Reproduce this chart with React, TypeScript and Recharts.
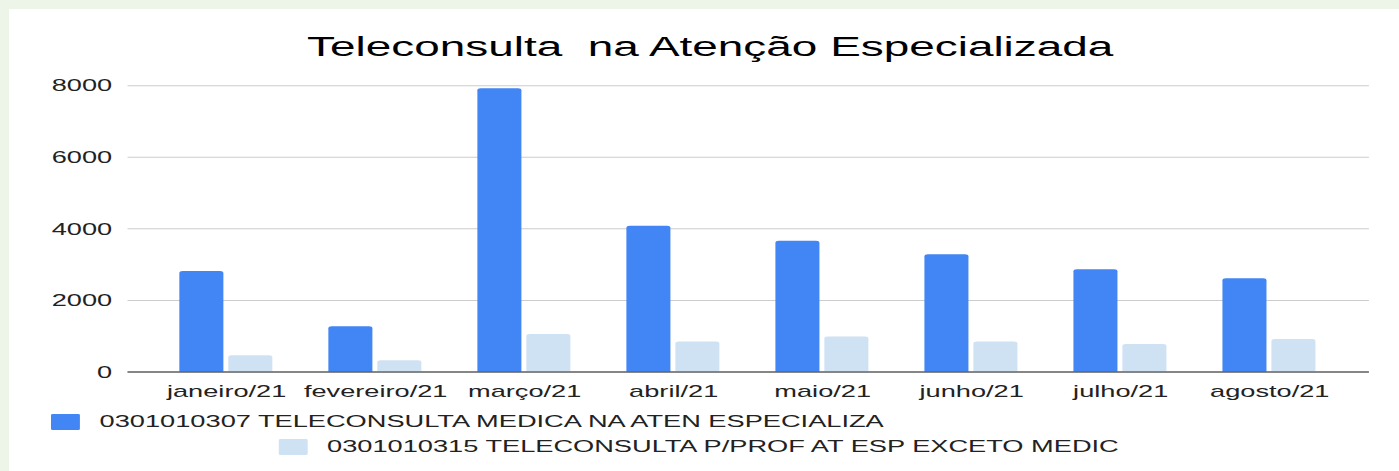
import { BarChart, Bar, XAxis, YAxis, CartesianGrid } from "recharts";

const meses = ["janeiro/21", "fevereiro/21", "março/21", "abril/21", "maio/21", "junho/21", "julho/21", "agosto/21"];
const medica = [2820, 1280, 7930, 4090, 3670, 3290, 2870, 2620];
const profissional = [470, 330, 1060, 850, 990, 850, 780, 920];
const yTicks = [0, 2000, 4000, 6000, 8000];

const SERIE_MEDICA = "0301010307 TELECONSULTA MEDICA NA ATEN ESPECIALIZA";
const SERIE_PROF = "0301010315 TELECONSULTA P/PROF AT ESP EXCETO MEDIC";

const AZUL = "#4285f4";
const AZUL_CLARO = "#cfe2f3";
const FONTE = "'Liberation Sans', Arial, Helvetica, sans-serif";

// a imagem original está esticada na horizontal; desenhamos estreito e esticamos
const ESTICA = 1.7;
const LARGURA = 1399 / ESTICA;

const dados = meses.map((mes, i) => ({ mes, medica: medica[i], prof: profissional[i] }));

export default function App() {
  return (
    <div style={{ position: "relative", width: 1399, height: 471, background: "#edf5e9", overflow: "hidden" }}>
      <style>{`body{margin:0}`}</style>
      <div style={{ position: "absolute", left: 9, top: 9, right: 0, bottom: 0, background: "#fff" }} />
      <div
        style={{
          position: "absolute",
          left: 0,
          top: 0,
          width: LARGURA,
          height: 471,
          transform: `scaleX(${ESTICA})`,
          transformOrigin: "0 0",
          fontFamily: FONTE,
        }}
      >
        {/* Título */}
        <div
          style={{
            position: "absolute",
            left: 180.6,
            top: 34,
            fontSize: 27,
            lineHeight: 1,
            whiteSpace: "pre",
            color: "#000",
          }}
        >
          {"Teleconsulta  na Atenção Especializada"}
        </div>

        <BarChart
          width={LARGURA}
          height={471}
          data={dados}
          margin={{ top: 85.7, right: 17.7, bottom: 69, left: 15 }}
          barSize={25.9}
          barGap={2.9}
        >
          <CartesianGrid vertical={false} stroke="#cccccc" strokeWidth={1} />
          <XAxis
            dataKey="mes"
            height={30}
            padding={{ left: 14.5, right: 14.5 }}
            tickLine={false}
            tickSize={0}
            tickMargin={14}
            axisLine={{ stroke: "#666", strokeWidth: 1.5 }}
            interval={0}
            tick={{ fill: "#222", fontSize: 16, fontFamily: FONTE }}
          />
          <YAxis
            width={60}
            domain={[0, 8000]}
            ticks={yTicks}
            axisLine={false}
            tickLine={false}
            tickSize={0}
            tickMargin={9}
            tick={{ fill: "#222", fontSize: 16, fontFamily: FONTE }}
          />
          <Bar dataKey="medica" name={SERIE_MEDICA} fill={AZUL} radius={[2, 2, 0, 0]} isAnimationActive={false} />
          <Bar dataKey="prof" name={SERIE_PROF} fill={AZUL_CLARO} radius={[2, 2, 0, 0]} isAnimationActive={false} />
        </BarChart>

        {/* Legenda */}
        <div style={{ position: "absolute", left: 30, top: 414.3, display: "flex", alignItems: "center", height: 16 }}>
          <div style={{ width: 16.5, height: 16, background: AZUL, borderRadius: 1 }} />
          <span style={{ marginLeft: 12.1, fontSize: 16, color: "#222", whiteSpace: "pre" }}>{SERIE_MEDICA}</span>
        </div>
        <div style={{ position: "absolute", left: 164.1, top: 438.6, display: "flex", alignItems: "center", height: 16 }}>
          <div style={{ width: 16.5, height: 16, background: AZUL_CLARO, borderRadius: 1 }} />
          <span style={{ marginLeft: 11.8, fontSize: 16, color: "#222", whiteSpace: "pre" }}>{SERIE_PROF}</span>
        </div>
      </div>
    </div>
  );
}
